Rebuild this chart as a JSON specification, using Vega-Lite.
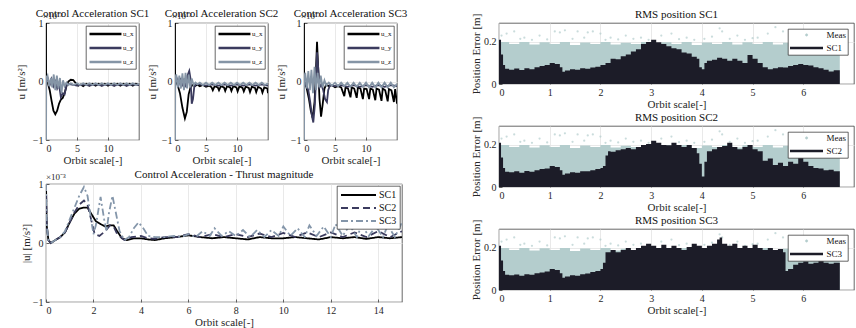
{
"$schema":"https://vega.github.io/schema/vega-lite/v6.json",
"padding":{"left":15,"top":7,"right":0,"bottom":0},
"config":{
 "font":"Liberation Serif",
 "view":{"stroke":"#262626","strokeWidth":0.7},
 "title":{"font":"Liberation Serif","fontSize":11,"fontWeight":"normal","color":"#111111","offset":3},
 "style":{"group-title":{"font":"Liberation Serif","fontSize":11,"fontWeight":"normal","fill":"#111111"}},
 "axis":{"labelFont":"Liberation Serif","titleFont":"Liberation Serif","labelFontSize":10,"titleFontSize":11,"titleFontWeight":"normal","labelColor":"#262626","titleColor":"#262626","ticks":true,"tickSize":-3,"tickColor":"#262626","tickWidth":0.7,"domain":false,"grid":true,"gridColor":"#e3e3e3","gridWidth":0.8,"labelPadding":6,"titlePadding":1},
 "legend":{"labelFont":"Liberation Serif","fillColor":"white","strokeColor":"#262626","strokeWidth":0.7,"cornerRadius":0,"title":null,"labelColor":"#111111"}
},
"datasets":{
 "ctrl":[
  {"sc":"SC1","c":"u_x","x":0,"y":1},{"sc":"SC1","c":"u_x","x":0.02,"y":0},{"sc":"SC1","c":"u_x","x":0.3,"y":-0.03},{"sc":"SC1","c":"u_x","x":0.6,"y":-0.15},{"sc":"SC1","c":"u_x","x":0.9,"y":-0.33},{"sc":"SC1","c":"u_x","x":1.2,"y":-0.5},{"sc":"SC1","c":"u_x","x":1.5,"y":-0.56},{"sc":"SC1","c":"u_x","x":1.8,"y":-0.5},{"sc":"SC1","c":"u_x","x":2.1,"y":-0.38},{"sc":"SC1","c":"u_x","x":2.4,"y":-0.31},{"sc":"SC1","c":"u_x","x":2.7,"y":-0.28},{"sc":"SC1","c":"u_x","x":3.0,"y":-0.2},{"sc":"SC1","c":"u_x","x":3.3,"y":-0.08},{"sc":"SC1","c":"u_x","x":3.6,"y":0.0},{"sc":"SC1","c":"u_x","x":4.0,"y":0.03},{"sc":"SC1","c":"u_x","x":4.4,"y":0.025},{"sc":"SC1","c":"u_x","x":4.8,"y":-0.03},{"sc":"SC1","c":"u_x","x":5.2,"y":-0.07},{"sc":"SC1","c":"u_x","x":5.6,"y":-0.05},{"sc":"SC1","c":"u_x","x":6.0,"y":-0.08},{"sc":"SC1","c":"u_x","x":6.5,"y":-0.04},{"sc":"SC1","c":"u_x","x":7.0,"y":-0.07},{"sc":"SC1","c":"u_x","x":7.5,"y":-0.04},{"sc":"SC1","c":"u_x","x":8.0,"y":-0.07},{"sc":"SC1","c":"u_x","x":8.5,"y":-0.04},{"sc":"SC1","c":"u_x","x":9.0,"y":-0.07},{"sc":"SC1","c":"u_x","x":9.5,"y":-0.04},{"sc":"SC1","c":"u_x","x":10,"y":-0.07},{"sc":"SC1","c":"u_x","x":10.5,"y":-0.04},{"sc":"SC1","c":"u_x","x":11,"y":-0.07},{"sc":"SC1","c":"u_x","x":11.5,"y":-0.04},{"sc":"SC1","c":"u_x","x":12,"y":-0.07},{"sc":"SC1","c":"u_x","x":12.5,"y":-0.04},{"sc":"SC1","c":"u_x","x":13,"y":-0.07},{"sc":"SC1","c":"u_x","x":13.5,"y":-0.04},{"sc":"SC1","c":"u_x","x":14,"y":-0.07},{"sc":"SC1","c":"u_x","x":14.5,"y":-0.04},{"sc":"SC1","c":"u_x","x":15,"y":-0.06},
  {"sc":"SC1","c":"u_y","x":0,"y":0},{"sc":"SC1","c":"u_y","x":0.3,"y":0.05},{"sc":"SC1","c":"u_y","x":0.6,"y":-0.06},{"sc":"SC1","c":"u_y","x":0.9,"y":0.04},{"sc":"SC1","c":"u_y","x":1.2,"y":-0.08},{"sc":"SC1","c":"u_y","x":1.5,"y":0.0},{"sc":"SC1","c":"u_y","x":1.8,"y":-0.12},{"sc":"SC1","c":"u_y","x":2.1,"y":-0.05},{"sc":"SC1","c":"u_y","x":2.4,"y":-0.27},{"sc":"SC1","c":"u_y","x":2.7,"y":-0.2},{"sc":"SC1","c":"u_y","x":3.0,"y":-0.22},{"sc":"SC1","c":"u_y","x":3.3,"y":-0.06},{"sc":"SC1","c":"u_y","x":3.6,"y":-0.04},{"sc":"SC1","c":"u_y","x":4,"y":-0.05},{"sc":"SC1","c":"u_y","x":5,"y":-0.07},{"sc":"SC1","c":"u_y","x":6,"y":-0.05},{"sc":"SC1","c":"u_y","x":7,"y":-0.07},{"sc":"SC1","c":"u_y","x":8,"y":-0.05},{"sc":"SC1","c":"u_y","x":9,"y":-0.07},{"sc":"SC1","c":"u_y","x":10,"y":-0.05},{"sc":"SC1","c":"u_y","x":11,"y":-0.07},{"sc":"SC1","c":"u_y","x":12,"y":-0.05},{"sc":"SC1","c":"u_y","x":13,"y":-0.07},{"sc":"SC1","c":"u_y","x":14,"y":-0.05},{"sc":"SC1","c":"u_y","x":15,"y":-0.06},
  {"sc":"SC1","c":"u_z","x":0,"y":0.1},{"sc":"SC1","c":"u_z","x":0.01,"y":-1},{"sc":"SC1","c":"u_z","x":0.04,"y":0.05},{"sc":"SC1","c":"u_z","x":0.25,"y":0.1},{"sc":"SC1","c":"u_z","x":0.5,"y":-0.08},{"sc":"SC1","c":"u_z","x":0.8,"y":0.06},{"sc":"SC1","c":"u_z","x":1.0,"y":-0.1},{"sc":"SC1","c":"u_z","x":1.25,"y":0.12},{"sc":"SC1","c":"u_z","x":1.5,"y":-0.15},{"sc":"SC1","c":"u_z","x":1.75,"y":0.1},{"sc":"SC1","c":"u_z","x":2.0,"y":-0.12},{"sc":"SC1","c":"u_z","x":2.25,"y":0.06},{"sc":"SC1","c":"u_z","x":2.5,"y":-0.2},{"sc":"SC1","c":"u_z","x":2.75,"y":0.02},{"sc":"SC1","c":"u_z","x":3.0,"y":-0.08},{"sc":"SC1","c":"u_z","x":3.3,"y":-0.02},{"sc":"SC1","c":"u_z","x":3.6,"y":-0.06},{"sc":"SC1","c":"u_z","x":4,"y":-0.03},{"sc":"SC1","c":"u_z","x":4.5,"y":-0.06},{"sc":"SC1","c":"u_z","x":5,"y":-0.03},{"sc":"SC1","c":"u_z","x":5.5,"y":-0.06},{"sc":"SC1","c":"u_z","x":6,"y":-0.03},{"sc":"SC1","c":"u_z","x":6.5,"y":-0.06},{"sc":"SC1","c":"u_z","x":7,"y":-0.03},{"sc":"SC1","c":"u_z","x":7.5,"y":-0.06},{"sc":"SC1","c":"u_z","x":8,"y":-0.03},{"sc":"SC1","c":"u_z","x":8.5,"y":-0.06},{"sc":"SC1","c":"u_z","x":9,"y":-0.03},{"sc":"SC1","c":"u_z","x":9.5,"y":-0.06},{"sc":"SC1","c":"u_z","x":10,"y":-0.03},{"sc":"SC1","c":"u_z","x":10.5,"y":-0.06},{"sc":"SC1","c":"u_z","x":11,"y":-0.03},{"sc":"SC1","c":"u_z","x":11.5,"y":-0.06},{"sc":"SC1","c":"u_z","x":12,"y":-0.03},{"sc":"SC1","c":"u_z","x":12.5,"y":-0.06},{"sc":"SC1","c":"u_z","x":13,"y":-0.03},{"sc":"SC1","c":"u_z","x":13.5,"y":-0.06},{"sc":"SC1","c":"u_z","x":14,"y":-0.03},{"sc":"SC1","c":"u_z","x":14.5,"y":-0.06},{"sc":"SC1","c":"u_z","x":15,"y":-0.04},
  {"sc":"SC2","c":"u_x","x":0,"y":1},{"sc":"SC2","c":"u_x","x":0.02,"y":0},{"sc":"SC2","c":"u_x","x":0.4,"y":-0.05},{"sc":"SC2","c":"u_x","x":0.8,"y":-0.2},{"sc":"SC2","c":"u_x","x":1.2,"y":-0.45},{"sc":"SC2","c":"u_x","x":1.6,"y":-0.63},{"sc":"SC2","c":"u_x","x":1.9,"y":-0.52},{"sc":"SC2","c":"u_x","x":2.2,"y":-0.22},{"sc":"SC2","c":"u_x","x":2.5,"y":-0.1},{"sc":"SC2","c":"u_x","x":2.8,"y":-0.06},{"sc":"SC2","c":"u_x","x":3.2,"y":-0.08},{"sc":"SC2","c":"u_x","x":3.6,"y":-0.05},{"sc":"SC2","c":"u_x","x":4,"y":-0.08},{"sc":"SC2","c":"u_x","x":4.5,"y":-0.06},{"sc":"SC2","c":"u_x","x":5,"y":-0.09},{"sc":"SC2","c":"u_x","x":5.5,"y":-0.07},{"sc":"SC2","c":"u_x","x":5.9,"y":-0.1},{"sc":"SC2","c":"u_x","x":6.1,"y":-0.15},{"sc":"SC2","c":"u_x","x":6.4,"y":-0.08},{"sc":"SC2","c":"u_x","x":6.9,"y":-0.1},{"sc":"SC2","c":"u_x","x":7.1,"y":-0.15},{"sc":"SC2","c":"u_x","x":7.4,"y":-0.08},{"sc":"SC2","c":"u_x","x":7.9,"y":-0.1},{"sc":"SC2","c":"u_x","x":8.1,"y":-0.16},{"sc":"SC2","c":"u_x","x":8.4,"y":-0.08},{"sc":"SC2","c":"u_x","x":8.9,"y":-0.1},{"sc":"SC2","c":"u_x","x":9.1,"y":-0.16},{"sc":"SC2","c":"u_x","x":9.4,"y":-0.08},{"sc":"SC2","c":"u_x","x":9.9,"y":-0.1},{"sc":"SC2","c":"u_x","x":10.1,"y":-0.17},{"sc":"SC2","c":"u_x","x":10.4,"y":-0.08},{"sc":"SC2","c":"u_x","x":10.9,"y":-0.11},{"sc":"SC2","c":"u_x","x":11.1,"y":-0.17},{"sc":"SC2","c":"u_x","x":11.4,"y":-0.09},{"sc":"SC2","c":"u_x","x":11.9,"y":-0.11},{"sc":"SC2","c":"u_x","x":12.1,"y":-0.18},{"sc":"SC2","c":"u_x","x":12.4,"y":-0.09},{"sc":"SC2","c":"u_x","x":12.9,"y":-0.11},{"sc":"SC2","c":"u_x","x":13.1,"y":-0.18},{"sc":"SC2","c":"u_x","x":13.4,"y":-0.09},{"sc":"SC2","c":"u_x","x":13.9,"y":-0.12},{"sc":"SC2","c":"u_x","x":14.1,"y":-0.19},{"sc":"SC2","c":"u_x","x":14.4,"y":-0.1},{"sc":"SC2","c":"u_x","x":14.9,"y":-0.12},{"sc":"SC2","c":"u_x","x":15,"y":-0.2},
  {"sc":"SC2","c":"u_y","x":0,"y":0},{"sc":"SC2","c":"u_y","x":0.3,"y":0.05},{"sc":"SC2","c":"u_y","x":0.6,"y":-0.05},{"sc":"SC2","c":"u_y","x":0.9,"y":0.06},{"sc":"SC2","c":"u_y","x":1.2,"y":-0.08},{"sc":"SC2","c":"u_y","x":1.5,"y":0.05},{"sc":"SC2","c":"u_y","x":1.8,"y":-0.1},{"sc":"SC2","c":"u_y","x":2.0,"y":0.1},{"sc":"SC2","c":"u_y","x":2.3,"y":0.18},{"sc":"SC2","c":"u_y","x":2.5,"y":0.05},{"sc":"SC2","c":"u_y","x":2.7,"y":-0.38},{"sc":"SC2","c":"u_y","x":2.9,"y":-0.3},{"sc":"SC2","c":"u_y","x":3.1,"y":-0.1},{"sc":"SC2","c":"u_y","x":3.4,"y":-0.04},{"sc":"SC2","c":"u_y","x":4,"y":-0.05},{"sc":"SC2","c":"u_y","x":5,"y":-0.07},{"sc":"SC2","c":"u_y","x":6,"y":-0.05},{"sc":"SC2","c":"u_y","x":7,"y":-0.07},{"sc":"SC2","c":"u_y","x":8,"y":-0.05},{"sc":"SC2","c":"u_y","x":9,"y":-0.07},{"sc":"SC2","c":"u_y","x":10,"y":-0.05},{"sc":"SC2","c":"u_y","x":11,"y":-0.07},{"sc":"SC2","c":"u_y","x":12,"y":-0.05},{"sc":"SC2","c":"u_y","x":13,"y":-0.07},{"sc":"SC2","c":"u_y","x":14,"y":-0.05},{"sc":"SC2","c":"u_y","x":15,"y":-0.07},
  {"sc":"SC2","c":"u_z","x":0,"y":0.1},{"sc":"SC2","c":"u_z","x":0.01,"y":-1},{"sc":"SC2","c":"u_z","x":0.04,"y":0.05},{"sc":"SC2","c":"u_z","x":0.2,"y":0.12},{"sc":"SC2","c":"u_z","x":0.45,"y":-0.1},{"sc":"SC2","c":"u_z","x":0.7,"y":0.1},{"sc":"SC2","c":"u_z","x":0.95,"y":-0.12},{"sc":"SC2","c":"u_z","x":1.2,"y":0.14},{"sc":"SC2","c":"u_z","x":1.45,"y":-0.15},{"sc":"SC2","c":"u_z","x":1.7,"y":0.15},{"sc":"SC2","c":"u_z","x":1.95,"y":-0.12},{"sc":"SC2","c":"u_z","x":2.2,"y":0.12},{"sc":"SC2","c":"u_z","x":2.45,"y":-0.1},{"sc":"SC2","c":"u_z","x":2.7,"y":0.05},{"sc":"SC2","c":"u_z","x":3.0,"y":-0.06},{"sc":"SC2","c":"u_z","x":3.3,"y":-0.02},{"sc":"SC2","c":"u_z","x":3.6,"y":-0.05},{"sc":"SC2","c":"u_z","x":4,"y":-0.02},{"sc":"SC2","c":"u_z","x":4.5,"y":-0.06},{"sc":"SC2","c":"u_z","x":5,"y":-0.02},{"sc":"SC2","c":"u_z","x":5.5,"y":-0.06},{"sc":"SC2","c":"u_z","x":6,"y":-0.02},{"sc":"SC2","c":"u_z","x":6.5,"y":-0.06},{"sc":"SC2","c":"u_z","x":7,"y":-0.02},{"sc":"SC2","c":"u_z","x":7.5,"y":-0.06},{"sc":"SC2","c":"u_z","x":8,"y":-0.02},{"sc":"SC2","c":"u_z","x":8.5,"y":-0.06},{"sc":"SC2","c":"u_z","x":9,"y":-0.02},{"sc":"SC2","c":"u_z","x":9.5,"y":-0.06},{"sc":"SC2","c":"u_z","x":10,"y":-0.02},{"sc":"SC2","c":"u_z","x":10.5,"y":-0.06},{"sc":"SC2","c":"u_z","x":11,"y":-0.02},{"sc":"SC2","c":"u_z","x":11.5,"y":-0.06},{"sc":"SC2","c":"u_z","x":12,"y":-0.02},{"sc":"SC2","c":"u_z","x":12.5,"y":-0.06},{"sc":"SC2","c":"u_z","x":13,"y":-0.02},{"sc":"SC2","c":"u_z","x":13.5,"y":-0.06},{"sc":"SC2","c":"u_z","x":14,"y":-0.02},{"sc":"SC2","c":"u_z","x":14.5,"y":-0.06},{"sc":"SC2","c":"u_z","x":15,"y":-0.03},
  {"sc":"SC3","c":"u_x","x":0,"y":1},{"sc":"SC3","c":"u_x","x":0.02,"y":0},{"sc":"SC3","c":"u_x","x":0.4,"y":-0.1},{"sc":"SC3","c":"u_x","x":0.8,"y":-0.3},{"sc":"SC3","c":"u_x","x":1.1,"y":-0.5},{"sc":"SC3","c":"u_x","x":1.4,"y":-0.62},{"sc":"SC3","c":"u_x","x":1.7,"y":-0.35},{"sc":"SC3","c":"u_x","x":1.9,"y":0.1},{"sc":"SC3","c":"u_x","x":2.1,"y":0.68},{"sc":"SC3","c":"u_x","x":2.3,"y":0.2},{"sc":"SC3","c":"u_x","x":2.5,"y":-0.3},{"sc":"SC3","c":"u_x","x":2.75,"y":-0.6},{"sc":"SC3","c":"u_x","x":3.0,"y":-0.4},{"sc":"SC3","c":"u_x","x":3.3,"y":-0.12},{"sc":"SC3","c":"u_x","x":3.6,"y":-0.05},{"sc":"SC3","c":"u_x","x":4,"y":-0.08},{"sc":"SC3","c":"u_x","x":4.5,"y":-0.06},{"sc":"SC3","c":"u_x","x":5,"y":-0.1},{"sc":"SC3","c":"u_x","x":5.5,"y":-0.08},{"sc":"SC3","c":"u_x","x":6,"y":-0.1},{"sc":"SC3","c":"u_x","x":6.5,"y":-0.25},{"sc":"SC3","c":"u_x","x":6.7,"y":-0.1},{"sc":"SC3","c":"u_x","x":7.1,"y":-0.12},{"sc":"SC3","c":"u_x","x":7.5,"y":-0.27},{"sc":"SC3","c":"u_x","x":7.7,"y":-0.1},{"sc":"SC3","c":"u_x","x":8.1,"y":-0.12},{"sc":"SC3","c":"u_x","x":8.5,"y":-0.28},{"sc":"SC3","c":"u_x","x":8.7,"y":-0.1},{"sc":"SC3","c":"u_x","x":9.1,"y":-0.12},{"sc":"SC3","c":"u_x","x":9.5,"y":-0.3},{"sc":"SC3","c":"u_x","x":9.7,"y":-0.12},{"sc":"SC3","c":"u_x","x":10.1,"y":-0.13},{"sc":"SC3","c":"u_x","x":10.5,"y":-0.3},{"sc":"SC3","c":"u_x","x":10.7,"y":-0.12},{"sc":"SC3","c":"u_x","x":11.1,"y":-0.14},{"sc":"SC3","c":"u_x","x":11.5,"y":-0.32},{"sc":"SC3","c":"u_x","x":11.7,"y":-0.12},{"sc":"SC3","c":"u_x","x":12.1,"y":-0.14},{"sc":"SC3","c":"u_x","x":12.5,"y":-0.33},{"sc":"SC3","c":"u_x","x":12.7,"y":-0.12},{"sc":"SC3","c":"u_x","x":13.1,"y":-0.15},{"sc":"SC3","c":"u_x","x":13.5,"y":-0.34},{"sc":"SC3","c":"u_x","x":13.7,"y":-0.13},{"sc":"SC3","c":"u_x","x":14.1,"y":-0.15},{"sc":"SC3","c":"u_x","x":14.5,"y":-0.35},{"sc":"SC3","c":"u_x","x":14.7,"y":-0.13},{"sc":"SC3","c":"u_x","x":15,"y":-0.38},
  {"sc":"SC3","c":"u_y","x":0,"y":0},{"sc":"SC3","c":"u_y","x":0.3,"y":-0.05},{"sc":"SC3","c":"u_y","x":0.7,"y":-0.15},{"sc":"SC3","c":"u_y","x":1.0,"y":-0.35},{"sc":"SC3","c":"u_y","x":1.3,"y":-0.6},{"sc":"SC3","c":"u_y","x":1.5,"y":-0.7},{"sc":"SC3","c":"u_y","x":1.75,"y":-0.4},{"sc":"SC3","c":"u_y","x":1.95,"y":0.1},{"sc":"SC3","c":"u_y","x":2.1,"y":0.5},{"sc":"SC3","c":"u_y","x":2.25,"y":0.3},{"sc":"SC3","c":"u_y","x":2.5,"y":-0.1},{"sc":"SC3","c":"u_y","x":2.8,"y":-0.05},{"sc":"SC3","c":"u_y","x":3.1,"y":-0.15},{"sc":"SC3","c":"u_y","x":3.4,"y":-0.3},{"sc":"SC3","c":"u_y","x":3.7,"y":-0.35},{"sc":"SC3","c":"u_y","x":3.9,"y":-0.15},{"sc":"SC3","c":"u_y","x":4.2,"y":-0.06},{"sc":"SC3","c":"u_y","x":5,"y":-0.08},{"sc":"SC3","c":"u_y","x":6,"y":-0.06},{"sc":"SC3","c":"u_y","x":7,"y":-0.09},{"sc":"SC3","c":"u_y","x":8,"y":-0.06},{"sc":"SC3","c":"u_y","x":9,"y":-0.09},{"sc":"SC3","c":"u_y","x":10,"y":-0.06},{"sc":"SC3","c":"u_y","x":11,"y":-0.09},{"sc":"SC3","c":"u_y","x":12,"y":-0.06},{"sc":"SC3","c":"u_y","x":13,"y":-0.09},{"sc":"SC3","c":"u_y","x":14,"y":-0.06},{"sc":"SC3","c":"u_y","x":15,"y":-0.08},
  {"sc":"SC3","c":"u_z","x":0,"y":0.1},{"sc":"SC3","c":"u_z","x":0.01,"y":-1},{"sc":"SC3","c":"u_z","x":0.04,"y":0.05},{"sc":"SC3","c":"u_z","x":0.2,"y":0.15},{"sc":"SC3","c":"u_z","x":0.45,"y":-0.12},{"sc":"SC3","c":"u_z","x":0.7,"y":0.18},{"sc":"SC3","c":"u_z","x":0.95,"y":-0.15},{"sc":"SC3","c":"u_z","x":1.2,"y":0.2},{"sc":"SC3","c":"u_z","x":1.45,"y":-0.2},{"sc":"SC3","c":"u_z","x":1.7,"y":0.25},{"sc":"SC3","c":"u_z","x":1.95,"y":-0.15},{"sc":"SC3","c":"u_z","x":2.2,"y":0.15},{"sc":"SC3","c":"u_z","x":2.45,"y":-0.1},{"sc":"SC3","c":"u_z","x":2.7,"y":0.1},{"sc":"SC3","c":"u_z","x":3.0,"y":-0.1},{"sc":"SC3","c":"u_z","x":3.3,"y":0.02},{"sc":"SC3","c":"u_z","x":3.6,"y":-0.07},{"sc":"SC3","c":"u_z","x":4,"y":-0.02},{"sc":"SC3","c":"u_z","x":4.5,"y":-0.07},{"sc":"SC3","c":"u_z","x":5,"y":-0.02},{"sc":"SC3","c":"u_z","x":5.5,"y":-0.08},{"sc":"SC3","c":"u_z","x":6,"y":-0.02},{"sc":"SC3","c":"u_z","x":6.5,"y":-0.08},{"sc":"SC3","c":"u_z","x":7,"y":-0.02},{"sc":"SC3","c":"u_z","x":7.5,"y":-0.09},{"sc":"SC3","c":"u_z","x":8,"y":-0.02},{"sc":"SC3","c":"u_z","x":8.5,"y":-0.09},{"sc":"SC3","c":"u_z","x":9,"y":-0.02},{"sc":"SC3","c":"u_z","x":9.5,"y":-0.09},{"sc":"SC3","c":"u_z","x":10,"y":-0.02},{"sc":"SC3","c":"u_z","x":10.5,"y":-0.1},{"sc":"SC3","c":"u_z","x":11,"y":-0.02},{"sc":"SC3","c":"u_z","x":11.5,"y":-0.1},{"sc":"SC3","c":"u_z","x":12,"y":-0.02},{"sc":"SC3","c":"u_z","x":12.5,"y":-0.1},{"sc":"SC3","c":"u_z","x":13,"y":-0.02},{"sc":"SC3","c":"u_z","x":13.5,"y":-0.1},{"sc":"SC3","c":"u_z","x":14,"y":-0.02},{"sc":"SC3","c":"u_z","x":14.5,"y":-0.1},{"sc":"SC3","c":"u_z","x":15,"y":-0.04}
 ],
 "mag":[
  {"s":"SC1","x":0,"y":1},{"s":"SC1","x":0.03,"y":0.3},{"s":"SC1","x":0.1,"y":0.05},{"s":"SC1","x":0.2,"y":0.0},{"s":"SC1","x":0.4,"y":0.05},{"s":"SC1","x":0.6,"y":0.1},{"s":"SC1","x":0.8,"y":0.18},{"s":"SC1","x":1.0,"y":0.35},{"s":"SC1","x":1.2,"y":0.5},{"s":"SC1","x":1.4,"y":0.58},{"s":"SC1","x":1.6,"y":0.6},{"s":"SC1","x":1.75,"y":0.6},{"s":"SC1","x":1.9,"y":0.5},{"s":"SC1","x":2.1,"y":0.37},{"s":"SC1","x":2.3,"y":0.32},{"s":"SC1","x":2.5,"y":0.28},{"s":"SC1","x":2.7,"y":0.3},{"s":"SC1","x":2.85,"y":0.3},{"s":"SC1","x":3.0,"y":0.2},{"s":"SC1","x":3.2,"y":0.08},{"s":"SC1","x":3.4,"y":0.05},{"s":"SC1","x":3.7,"y":0.08},{"s":"SC1","x":4,"y":0.08},{"s":"SC1","x":4.3,"y":0.06},{"s":"SC1","x":4.6,"y":0.05},{"s":"SC1","x":5,"y":0.08},{"s":"SC1","x":5.5,"y":0.1},{"s":"SC1","x":6,"y":0.13},{"s":"SC1","x":6.5,"y":0.1},{"s":"SC1","x":7,"y":0.08},{"s":"SC1","x":7.5,"y":0.1},{"s":"SC1","x":8,"y":0.08},{"s":"SC1","x":8.5,"y":0.06},{"s":"SC1","x":9,"y":0.1},{"s":"SC1","x":9.5,"y":0.08},{"s":"SC1","x":10,"y":0.08},{"s":"SC1","x":10.5,"y":0.1},{"s":"SC1","x":11,"y":0.08},{"s":"SC1","x":11.5,"y":0.06},{"s":"SC1","x":12,"y":0.1},{"s":"SC1","x":12.5,"y":0.08},{"s":"SC1","x":13,"y":0.1},{"s":"SC1","x":13.5,"y":0.07},{"s":"SC1","x":14,"y":0.1},{"s":"SC1","x":14.5,"y":0.08},{"s":"SC1","x":15,"y":0.1},
  {"s":"SC2","x":0,"y":1},{"s":"SC2","x":0.03,"y":0.3},{"s":"SC2","x":0.1,"y":0.05},{"s":"SC2","x":0.2,"y":0.0},{"s":"SC2","x":0.4,"y":0.05},{"s":"SC2","x":0.6,"y":0.1},{"s":"SC2","x":0.8,"y":0.18},{"s":"SC2","x":1.0,"y":0.35},{"s":"SC2","x":1.2,"y":0.52},{"s":"SC2","x":1.4,"y":0.65},{"s":"SC2","x":1.6,"y":0.72},{"s":"SC2","x":1.75,"y":0.65},{"s":"SC2","x":1.9,"y":0.4},{"s":"SC2","x":2.05,"y":0.15},{"s":"SC2","x":2.25,"y":0.12},{"s":"SC2","x":2.5,"y":0.2},{"s":"SC2","x":2.7,"y":0.3},{"s":"SC2","x":2.85,"y":0.28},{"s":"SC2","x":3.0,"y":0.15},{"s":"SC2","x":3.3,"y":0.05},{"s":"SC2","x":3.6,"y":0.1},{"s":"SC2","x":4,"y":0.12},{"s":"SC2","x":4.3,"y":0.08},{"s":"SC2","x":4.6,"y":0.07},{"s":"SC2","x":5,"y":0.1},{"s":"SC2","x":5.5,"y":0.1},{"s":"SC2","x":6,"y":0.15},{"s":"SC2","x":6.5,"y":0.1},{"s":"SC2","x":7,"y":0.15},{"s":"SC2","x":7.5,"y":0.1},{"s":"SC2","x":8,"y":0.15},{"s":"SC2","x":8.5,"y":0.1},{"s":"SC2","x":9,"y":0.16},{"s":"SC2","x":9.5,"y":0.1},{"s":"SC2","x":10,"y":0.17},{"s":"SC2","x":10.5,"y":0.1},{"s":"SC2","x":11,"y":0.18},{"s":"SC2","x":11.5,"y":0.1},{"s":"SC2","x":12,"y":0.18},{"s":"SC2","x":12.5,"y":0.1},{"s":"SC2","x":13,"y":0.18},{"s":"SC2","x":13.5,"y":0.1},{"s":"SC2","x":14,"y":0.2},{"s":"SC2","x":14.5,"y":0.1},{"s":"SC2","x":15,"y":0.2},
  {"s":"SC3","x":0,"y":1},{"s":"SC3","x":0.03,"y":0.3},{"s":"SC3","x":0.1,"y":0.05},{"s":"SC3","x":0.2,"y":0.0},{"s":"SC3","x":0.4,"y":0.05},{"s":"SC3","x":0.6,"y":0.1},{"s":"SC3","x":0.8,"y":0.2},{"s":"SC3","x":1.0,"y":0.4},{"s":"SC3","x":1.2,"y":0.6},{"s":"SC3","x":1.4,"y":0.8},{"s":"SC3","x":1.6,"y":0.95},{"s":"SC3","x":1.75,"y":0.8},{"s":"SC3","x":1.9,"y":0.4},{"s":"SC3","x":2.0,"y":0.15},{"s":"SC3","x":2.1,"y":0.3},{"s":"SC3","x":2.3,"y":0.78},{"s":"SC3","x":2.45,"y":0.4},{"s":"SC3","x":2.55,"y":0.2},{"s":"SC3","x":2.65,"y":0.5},{"s":"SC3","x":2.8,"y":0.8},{"s":"SC3","x":2.95,"y":0.5},{"s":"SC3","x":3.1,"y":0.2},{"s":"SC3","x":3.3,"y":0.05},{"s":"SC3","x":3.5,"y":0.1},{"s":"SC3","x":3.7,"y":0.25},{"s":"SC3","x":3.9,"y":0.35},{"s":"SC3","x":4.1,"y":0.25},{"s":"SC3","x":4.3,"y":0.12},{"s":"SC3","x":4.6,"y":0.1},{"s":"SC3","x":5,"y":0.1},{"s":"SC3","x":5.4,"y":0.12},{"s":"SC3","x":5.7,"y":0.1},{"s":"SC3","x":6,"y":0.15},{"s":"SC3","x":6.3,"y":0.1},{"s":"SC3","x":6.6,"y":0.2},{"s":"SC3","x":6.9,"y":0.12},{"s":"SC3","x":7.1,"y":0.25},{"s":"SC3","x":7.4,"y":0.12},{"s":"SC3","x":7.7,"y":0.2},{"s":"SC3","x":8,"y":0.12},{"s":"SC3","x":8.3,"y":0.22},{"s":"SC3","x":8.6,"y":0.1},{"s":"SC3","x":8.9,"y":0.22},{"s":"SC3","x":9.2,"y":0.1},{"s":"SC3","x":9.5,"y":0.22},{"s":"SC3","x":9.8,"y":0.12},{"s":"SC3","x":10,"y":0.28},{"s":"SC3","x":10.3,"y":0.12},{"s":"SC3","x":10.6,"y":0.25},{"s":"SC3","x":10.9,"y":0.1},{"s":"SC3","x":11.1,"y":0.3},{"s":"SC3","x":11.4,"y":0.12},{"s":"SC3","x":11.7,"y":0.28},{"s":"SC3","x":12,"y":0.1},{"s":"SC3","x":12.2,"y":0.32},{"s":"SC3","x":12.5,"y":0.12},{"s":"SC3","x":12.8,"y":0.3},{"s":"SC3","x":13.1,"y":0.1},{"s":"SC3","x":13.3,"y":0.3},{"s":"SC3","x":13.6,"y":0.12},{"s":"SC3","x":13.9,"y":0.28},{"s":"SC3","x":14.2,"y":0.1},{"s":"SC3","x":14.4,"y":0.3},{"s":"SC3","x":14.7,"y":0.1},{"s":"SC3","x":15,"y":0.35}
 ],
 "env":[
  {"s":"SC1","x":0,"y":0.21},{"s":"SC1","x":0.04,"y":0.14},{"s":"SC1","x":0.08,"y":0.09},{"s":"SC1","x":0.12,"y":0.072},{"s":"SC1","x":0.2,"y":0.068},{"s":"SC1","x":0.3,"y":0.074},{"s":"SC1","x":0.4,"y":0.066},{"s":"SC1","x":0.5,"y":0.075},{"s":"SC1","x":0.6,"y":0.07},{"s":"SC1","x":0.7,"y":0.08},{"s":"SC1","x":0.8,"y":0.085},{"s":"SC1","x":0.9,"y":0.09},{"s":"SC1","x":1.0,"y":0.1},{"s":"SC1","x":1.1,"y":0.095},{"s":"SC1","x":1.2,"y":0.08},{"s":"SC1","x":1.25,"y":0.058},{"s":"SC1","x":1.3,"y":0.064},{"s":"SC1","x":1.4,"y":0.07},{"s":"SC1","x":1.5,"y":0.068},{"s":"SC1","x":1.6,"y":0.075},{"s":"SC1","x":1.7,"y":0.072},{"s":"SC1","x":1.8,"y":0.078},{"s":"SC1","x":1.9,"y":0.082},{"s":"SC1","x":2.0,"y":0.09},{"s":"SC1","x":2.1,"y":0.1},{"s":"SC1","x":2.2,"y":0.12},{"s":"SC1","x":2.3,"y":0.118},{"s":"SC1","x":2.4,"y":0.132},{"s":"SC1","x":2.5,"y":0.14},{"s":"SC1","x":2.6,"y":0.155},{"s":"SC1","x":2.7,"y":0.165},{"s":"SC1","x":2.8,"y":0.19},{"s":"SC1","x":2.9,"y":0.2},{"s":"SC1","x":3.0,"y":0.21},{"s":"SC1","x":3.1,"y":0.198},{"s":"SC1","x":3.2,"y":0.19},{"s":"SC1","x":3.3,"y":0.18},{"s":"SC1","x":3.4,"y":0.17},{"s":"SC1","x":3.5,"y":0.165},{"s":"SC1","x":3.6,"y":0.15},{"s":"SC1","x":3.7,"y":0.145},{"s":"SC1","x":3.8,"y":0.13},{"s":"SC1","x":3.9,"y":0.12},{"s":"SC1","x":3.95,"y":0.08},{"s":"SC1","x":4.0,"y":0.07},{"s":"SC1","x":4.05,"y":0.1},{"s":"SC1","x":4.1,"y":0.11},{"s":"SC1","x":4.2,"y":0.115},{"s":"SC1","x":4.3,"y":0.125},{"s":"SC1","x":4.4,"y":0.12},{"s":"SC1","x":4.5,"y":0.11},{"s":"SC1","x":4.6,"y":0.12},{"s":"SC1","x":4.7,"y":0.11},{"s":"SC1","x":4.8,"y":0.1},{"s":"SC1","x":4.9,"y":0.138},{"s":"SC1","x":5.0,"y":0.12},{"s":"SC1","x":5.1,"y":0.1},{"s":"SC1","x":5.2,"y":0.08},{"s":"SC1","x":5.3,"y":0.07},{"s":"SC1","x":5.4,"y":0.075},{"s":"SC1","x":5.5,"y":0.08},{"s":"SC1","x":5.6,"y":0.078},{"s":"SC1","x":5.7,"y":0.085},{"s":"SC1","x":5.8,"y":0.09},{"s":"SC1","x":5.9,"y":0.095},{"s":"SC1","x":6.0,"y":0.09},{"s":"SC1","x":6.1,"y":0.088},{"s":"SC1","x":6.2,"y":0.08},{"s":"SC1","x":6.3,"y":0.075},{"s":"SC1","x":6.4,"y":0.068},{"s":"SC1","x":6.5,"y":0.06},{"s":"SC1","x":6.6,"y":0.065},{"s":"SC1","x":6.72,"y":0.075},
  {"s":"SC2","x":0,"y":0.21},{"s":"SC2","x":0.04,"y":0.14},{"s":"SC2","x":0.08,"y":0.09},{"s":"SC2","x":0.12,"y":0.072},{"s":"SC2","x":0.2,"y":0.07},{"s":"SC2","x":0.3,"y":0.075},{"s":"SC2","x":0.4,"y":0.068},{"s":"SC2","x":0.5,"y":0.076},{"s":"SC2","x":0.6,"y":0.072},{"s":"SC2","x":0.7,"y":0.08},{"s":"SC2","x":0.8,"y":0.085},{"s":"SC2","x":0.9,"y":0.088},{"s":"SC2","x":1.0,"y":0.1},{"s":"SC2","x":1.1,"y":0.095},{"s":"SC2","x":1.2,"y":0.08},{"s":"SC2","x":1.25,"y":0.058},{"s":"SC2","x":1.3,"y":0.064},{"s":"SC2","x":1.4,"y":0.07},{"s":"SC2","x":1.5,"y":0.068},{"s":"SC2","x":1.6,"y":0.075},{"s":"SC2","x":1.7,"y":0.075},{"s":"SC2","x":1.8,"y":0.08},{"s":"SC2","x":1.9,"y":0.085},{"s":"SC2","x":2.0,"y":0.09},{"s":"SC2","x":2.05,"y":0.1},{"s":"SC2","x":2.1,"y":0.15},{"s":"SC2","x":2.15,"y":0.17},{"s":"SC2","x":2.2,"y":0.168},{"s":"SC2","x":2.3,"y":0.175},{"s":"SC2","x":2.4,"y":0.18},{"s":"SC2","x":2.5,"y":0.185},{"s":"SC2","x":2.6,"y":0.18},{"s":"SC2","x":2.7,"y":0.19},{"s":"SC2","x":2.8,"y":0.2},{"s":"SC2","x":2.9,"y":0.205},{"s":"SC2","x":3.0,"y":0.22},{"s":"SC2","x":3.1,"y":0.21},{"s":"SC2","x":3.2,"y":0.2},{"s":"SC2","x":3.3,"y":0.198},{"s":"SC2","x":3.4,"y":0.21},{"s":"SC2","x":3.5,"y":0.2},{"s":"SC2","x":3.6,"y":0.19},{"s":"SC2","x":3.7,"y":0.2},{"s":"SC2","x":3.8,"y":0.185},{"s":"SC2","x":3.9,"y":0.16},{"s":"SC2","x":3.95,"y":0.11},{"s":"SC2","x":4.0,"y":0.05},{"s":"SC2","x":4.05,"y":0.12},{"s":"SC2","x":4.1,"y":0.17},{"s":"SC2","x":4.2,"y":0.18},{"s":"SC2","x":4.3,"y":0.19},{"s":"SC2","x":4.4,"y":0.195},{"s":"SC2","x":4.5,"y":0.21},{"s":"SC2","x":4.6,"y":0.19},{"s":"SC2","x":4.7,"y":0.18},{"s":"SC2","x":4.8,"y":0.19},{"s":"SC2","x":4.9,"y":0.2},{"s":"SC2","x":5.0,"y":0.18},{"s":"SC2","x":5.1,"y":0.17},{"s":"SC2","x":5.2,"y":0.125},{"s":"SC2","x":5.3,"y":0.135},{"s":"SC2","x":5.4,"y":0.105},{"s":"SC2","x":5.5,"y":0.115},{"s":"SC2","x":5.6,"y":0.1},{"s":"SC2","x":5.7,"y":0.12},{"s":"SC2","x":5.8,"y":0.11},{"s":"SC2","x":5.9,"y":0.14},{"s":"SC2","x":6.0,"y":0.12},{"s":"SC2","x":6.1,"y":0.1},{"s":"SC2","x":6.2,"y":0.09},{"s":"SC2","x":6.3,"y":0.088},{"s":"SC2","x":6.4,"y":0.08},{"s":"SC2","x":6.5,"y":0.082},{"s":"SC2","x":6.6,"y":0.075},{"s":"SC2","x":6.72,"y":0.08},
  {"s":"SC3","x":0,"y":0.21},{"s":"SC3","x":0.04,"y":0.14},{"s":"SC3","x":0.08,"y":0.09},{"s":"SC3","x":0.12,"y":0.072},{"s":"SC3","x":0.2,"y":0.07},{"s":"SC3","x":0.3,"y":0.074},{"s":"SC3","x":0.4,"y":0.068},{"s":"SC3","x":0.5,"y":0.075},{"s":"SC3","x":0.6,"y":0.072},{"s":"SC3","x":0.7,"y":0.08},{"s":"SC3","x":0.8,"y":0.083},{"s":"SC3","x":0.9,"y":0.088},{"s":"SC3","x":1.0,"y":0.1},{"s":"SC3","x":1.1,"y":0.095},{"s":"SC3","x":1.2,"y":0.08},{"s":"SC3","x":1.25,"y":0.058},{"s":"SC3","x":1.3,"y":0.064},{"s":"SC3","x":1.4,"y":0.07},{"s":"SC3","x":1.5,"y":0.068},{"s":"SC3","x":1.6,"y":0.075},{"s":"SC3","x":1.7,"y":0.078},{"s":"SC3","x":1.8,"y":0.085},{"s":"SC3","x":1.9,"y":0.09},{"s":"SC3","x":2.0,"y":0.1},{"s":"SC3","x":2.05,"y":0.13},{"s":"SC3","x":2.1,"y":0.18},{"s":"SC3","x":2.2,"y":0.19},{"s":"SC3","x":2.3,"y":0.18},{"s":"SC3","x":2.4,"y":0.19},{"s":"SC3","x":2.5,"y":0.2},{"s":"SC3","x":2.6,"y":0.19},{"s":"SC3","x":2.7,"y":0.2},{"s":"SC3","x":2.8,"y":0.21},{"s":"SC3","x":2.9,"y":0.22},{"s":"SC3","x":3.0,"y":0.21},{"s":"SC3","x":3.1,"y":0.2},{"s":"SC3","x":3.2,"y":0.215},{"s":"SC3","x":3.3,"y":0.2},{"s":"SC3","x":3.4,"y":0.21},{"s":"SC3","x":3.5,"y":0.2},{"s":"SC3","x":3.6,"y":0.19},{"s":"SC3","x":3.7,"y":0.205},{"s":"SC3","x":3.8,"y":0.22},{"s":"SC3","x":3.9,"y":0.21},{"s":"SC3","x":4.0,"y":0.2},{"s":"SC3","x":4.1,"y":0.21},{"s":"SC3","x":4.2,"y":0.22},{"s":"SC3","x":4.3,"y":0.24},{"s":"SC3","x":4.35,"y":0.25},{"s":"SC3","x":4.4,"y":0.22},{"s":"SC3","x":4.5,"y":0.21},{"s":"SC3","x":4.6,"y":0.22},{"s":"SC3","x":4.7,"y":0.2},{"s":"SC3","x":4.8,"y":0.21},{"s":"SC3","x":4.9,"y":0.2},{"s":"SC3","x":5.0,"y":0.215},{"s":"SC3","x":5.1,"y":0.2},{"s":"SC3","x":5.2,"y":0.19},{"s":"SC3","x":5.3,"y":0.2},{"s":"SC3","x":5.4,"y":0.19},{"s":"SC3","x":5.5,"y":0.195},{"s":"SC3","x":5.6,"y":0.18},{"s":"SC3","x":5.65,"y":0.09},{"s":"SC3","x":5.7,"y":0.1},{"s":"SC3","x":5.8,"y":0.12},{"s":"SC3","x":5.9,"y":0.13},{"s":"SC3","x":6.0,"y":0.135},{"s":"SC3","x":6.1,"y":0.125},{"s":"SC3","x":6.2,"y":0.13},{"s":"SC3","x":6.3,"y":0.14},{"s":"SC3","x":6.4,"y":0.13},{"s":"SC3","x":6.5,"y":0.125},{"s":"SC3","x":6.6,"y":0.13},{"s":"SC3","x":6.72,"y":0.13}
 ],
 "band":[
  {"s":"Meas","x":0,"y":0.2},{"s":"Meas","x":0.2,"y":0.19},{"s":"Meas","x":0.4,"y":0.2},{"s":"Meas","x":0.6,"y":0.188},{"s":"Meas","x":0.8,"y":0.198},{"s":"Meas","x":1.0,"y":0.19},{"s":"Meas","x":1.2,"y":0.2},{"s":"Meas","x":1.4,"y":0.186},{"s":"Meas","x":1.6,"y":0.197},{"s":"Meas","x":1.8,"y":0.19},{"s":"Meas","x":2.0,"y":0.2},{"s":"Meas","x":2.2,"y":0.188},{"s":"Meas","x":2.4,"y":0.196},{"s":"Meas","x":2.6,"y":0.19},{"s":"Meas","x":2.8,"y":0.2},{"s":"Meas","x":3.0,"y":0.188},{"s":"Meas","x":3.2,"y":0.198},{"s":"Meas","x":3.4,"y":0.19},{"s":"Meas","x":3.6,"y":0.2},{"s":"Meas","x":3.8,"y":0.186},{"s":"Meas","x":4.0,"y":0.197},{"s":"Meas","x":4.2,"y":0.19},{"s":"Meas","x":4.4,"y":0.2},{"s":"Meas","x":4.6,"y":0.188},{"s":"Meas","x":4.8,"y":0.198},{"s":"Meas","x":5.0,"y":0.19},{"s":"Meas","x":5.2,"y":0.2},{"s":"Meas","x":5.4,"y":0.188},{"s":"Meas","x":5.6,"y":0.196},{"s":"Meas","x":5.8,"y":0.19},{"s":"Meas","x":6.0,"y":0.2},{"s":"Meas","x":6.2,"y":0.188},{"s":"Meas","x":6.4,"y":0.196},{"s":"Meas","x":6.6,"y":0.19},{"s":"Meas","x":6.72,"y":0.19}
 ],
 "pts":[
  {"s":"Meas","x":0.05,"y":0.23},{"s":"Meas","x":0.15,"y":0.24},{"s":"Meas","x":0.3,"y":0.25},{"s":"Meas","x":0.42,"y":0.215},{"s":"Meas","x":0.5,"y":0.22},{"s":"Meas","x":0.65,"y":0.21},{"s":"Meas","x":0.8,"y":0.23},{"s":"Meas","x":0.95,"y":0.212},{"s":"Meas","x":1.1,"y":0.25},{"s":"Meas","x":1.2,"y":0.245},{"s":"Meas","x":1.3,"y":0.255},{"s":"Meas","x":1.45,"y":0.215},{"s":"Meas","x":1.55,"y":0.25},{"s":"Meas","x":1.68,"y":0.22},{"s":"Meas","x":1.75,"y":0.245},{"s":"Meas","x":1.85,"y":0.25},{"s":"Meas","x":2.0,"y":0.24},{"s":"Meas","x":2.1,"y":0.21},{"s":"Meas","x":2.2,"y":0.22},{"s":"Meas","x":2.35,"y":0.212},{"s":"Meas","x":2.5,"y":0.23},{"s":"Meas","x":2.65,"y":0.215},{"s":"Meas","x":2.8,"y":0.22},{"s":"Meas","x":2.95,"y":0.21},{"s":"Meas","x":3.2,"y":0.23},{"s":"Meas","x":3.4,"y":0.24},{"s":"Meas","x":3.55,"y":0.213},{"s":"Meas","x":3.7,"y":0.22},{"s":"Meas","x":3.85,"y":0.21},{"s":"Meas","x":4.05,"y":0.215},{"s":"Meas","x":4.2,"y":0.225},{"s":"Meas","x":4.35,"y":0.265},{"s":"Meas","x":4.4,"y":0.25},{"s":"Meas","x":4.55,"y":0.215},{"s":"Meas","x":4.7,"y":0.23},{"s":"Meas","x":4.85,"y":0.21},{"s":"Meas","x":5.0,"y":0.218},{"s":"Meas","x":5.1,"y":0.22},{"s":"Meas","x":5.3,"y":0.24},{"s":"Meas","x":5.45,"y":0.27},{"s":"Meas","x":5.6,"y":0.25},{"s":"Meas","x":5.75,"y":0.212},{"s":"Meas","x":5.9,"y":0.22},{"s":"Meas","x":6.05,"y":0.21},{"s":"Meas","x":6.2,"y":0.215},{"s":"Meas","x":6.35,"y":0.21},{"s":"Meas","x":6.5,"y":0.23},{"s":"Meas","x":6.65,"y":0.212}
 ]
},
"resolve":{"scale":{"color":"independent","strokeDash":"independent"},"legend":{"color":"independent","strokeDash":"independent"}},
"spacing":62,
"hconcat":[
 {"resolve":{"scale":{"color":"independent","strokeDash":"independent"},"legend":{"color":"independent","strokeDash":"independent"}},
  "spacing":2,"align":"none",
  "vconcat":[
  {"resolve":{"scale":{"color":"independent"},"legend":{"color":"independent"}},
   "bounds":"flush","spacing":36,
   "hconcat":[
    {"width":93,"height":117,"title":{"text":"Control Acceleration SC1","dy":10,"font":"Liberation Serif","fontSize":11,"fontWeight":"normal"},
     "layer":[
      {"data":{"name":"ctrl"},"transform":[{"filter":"datum.sc==='SC1'"}],"mark":{"type":"line","strokeWidth":1.8,"clip":true},
       "encoding":{"x":{"field":"x","type":"quantitative","scale":{"domain":[0,15],"nice":false},"axis":{"values":[0,5,10],"title":"Orbit scale[-]"}},
        "y":{"field":"y","type":"quantitative","scale":{"domain":[-1,1],"nice":false},"axis":{"values":[-1,-0.5,0,0.5,1],"format":"~g","title":"u [m/s²]","titlePadding":6}},
        "color":{"field":"c","type":"nominal","scale":{"domain":["u_x","u_y","u_z"],"range":["#000000","#3b3b5e","#8595a6"]},"legend":{"orient":"top-right","offset":3,"symbolType":"M-1,0H6.1","symbolSize":81,"symbolStrokeWidth":2.5,"labelFontSize":7,"padding":2,"rowPadding":3,"labelOffset":23}}}},
      {"data":{"values":[{"t":"×10⁻³"}]},"mark":{"type":"text","align":"left","baseline":"bottom","dx":-3,"dy":-2,"fontSize":9,"font":"Liberation Serif","color":"#262626"},
       "encoding":{"x":{"datum":0,"type":"quantitative"},"y":{"datum":1,"type":"quantitative"},"text":{"field":"t"}}}
     ]},
    {"width":93,"height":117,"title":{"text":"Control Acceleration SC2","dy":10,"font":"Liberation Serif","fontSize":11,"fontWeight":"normal"},
     "layer":[
      {"data":{"name":"ctrl"},"transform":[{"filter":"datum.sc==='SC2'"}],"mark":{"type":"line","strokeWidth":1.8,"clip":true},
       "encoding":{"x":{"field":"x","type":"quantitative","scale":{"domain":[0,15],"nice":false},"axis":{"values":[0,5,10],"title":"Orbit scale[-]"}},
        "y":{"field":"y","type":"quantitative","scale":{"domain":[-1,1],"nice":false},"axis":{"values":[-1,-0.5,0,0.5,1],"format":"~g","title":"u [m/s²]","titlePadding":4}},
        "color":{"field":"c","type":"nominal","scale":{"domain":["u_x","u_y","u_z"],"range":["#000000","#3b3b5e","#8595a6"]},"legend":{"orient":"top-right","offset":3,"symbolType":"M-1,0H6.1","symbolSize":81,"symbolStrokeWidth":2.5,"labelFontSize":7,"padding":2,"rowPadding":3,"labelOffset":23}}}},
      {"data":{"values":[{"t":"×10⁻³"}]},"mark":{"type":"text","align":"left","baseline":"bottom","dx":-3,"dy":-2,"fontSize":9,"font":"Liberation Serif","color":"#262626"},
       "encoding":{"x":{"datum":0,"type":"quantitative"},"y":{"datum":1,"type":"quantitative"},"text":{"field":"t"}}}
     ]},
    {"width":93,"height":117,"title":{"text":"Control Acceleration SC3","dy":10,"font":"Liberation Serif","fontSize":11,"fontWeight":"normal"},
     "layer":[
      {"data":{"name":"ctrl"},"transform":[{"filter":"datum.sc==='SC3'"}],"mark":{"type":"line","strokeWidth":1.8,"clip":true},
       "encoding":{"x":{"field":"x","type":"quantitative","scale":{"domain":[0,15],"nice":false},"axis":{"values":[0,5,10],"title":"Orbit scale[-]"}},
        "y":{"field":"y","type":"quantitative","scale":{"domain":[-1,1],"nice":false},"axis":{"values":[-1,-0.5,0,0.5,1],"format":"~g","title":"u [m/s²]","titlePadding":4}},
        "color":{"field":"c","type":"nominal","scale":{"domain":["u_x","u_y","u_z"],"range":["#000000","#3b3b5e","#8595a6"]},"legend":{"orient":"top-right","offset":3,"symbolType":"M-1,0H6.1","symbolSize":81,"symbolStrokeWidth":2.5,"labelFontSize":7,"padding":2,"rowPadding":3,"labelOffset":23}}}},
      {"data":{"values":[{"t":"×10⁻³"}]},"mark":{"type":"text","align":"left","baseline":"bottom","dx":-3,"dy":-2,"fontSize":9,"font":"Liberation Serif","color":"#262626"},
       "encoding":{"x":{"datum":0,"type":"quantitative"},"y":{"datum":1,"type":"quantitative"},"text":{"field":"t"}}}
     ]}
   ]},
  {"width":356,"height":118,"title":{"text":"Control Acceleration - Thrust magnitude","dy":10,"font":"Liberation Serif","fontSize":11,"fontWeight":"normal"},
   "layer":[
    {"data":{"name":"mag"},"mark":{"type":"line","strokeWidth":1.8,"clip":true},
     "encoding":{"x":{"field":"x","type":"quantitative","scale":{"domain":[0,15],"nice":false},"axis":{"values":[0,2,4,6,8,10,12,14],"title":"Orbit scale[-]"}},
      "y":{"field":"y","type":"quantitative","scale":{"domain":[-1,1],"nice":false},"axis":{"values":[-1,-0.5,0,0.5,1],"format":"~g","title":"|u| [m/s²]","titlePadding":1}},
      "color":{"field":"s","type":"nominal","scale":{"domain":["SC1","SC2","SC3"],"range":["#000000","#3b3b5e","#8496aa"]},"legend":{"orient":"top-right","offset":2,"symbolType":"M-1,0H6","symbolSize":100,"symbolStrokeWidth":2,"labelFontSize":10,"padding":3,"rowPadding":2,"labelOffset":27}},
      "strokeDash":{"field":"s","type":"nominal","scale":{"domain":["SC1","SC2","SC3"],"range":[[1,0],[7,4],[7,3,2,3]]},"legend":{"orient":"top-right","offset":2,"symbolType":"M-1,0H6","symbolSize":100,"symbolStrokeWidth":2,"labelFontSize":10,"padding":3,"rowPadding":2,"labelOffset":27}}}},
    {"data":{"values":[{"t":"×10⁻³"}]},"mark":{"type":"text","align":"left","baseline":"bottom","dx":0,"dy":-2,"fontSize":9,"font":"Liberation Serif","color":"#262626"},
     "encoding":{"x":{"datum":0,"type":"quantitative"},"y":{"datum":1,"type":"quantitative"},"text":{"field":"t"}}}
   ]}
 ]},
 {"resolve":{"scale":{"color":"independent"},"legend":{"color":"independent"}},
  "bounds":"flush","spacing":42,
  "vconcat":[
   {"width":355,"height":61,"title":{"text":"RMS position SC1","dy":10,"font":"Liberation Serif","fontSize":11,"fontWeight":"normal"},
    "layer":[
     {"data":{"name":"band"},"mark":{"type":"area","interpolate":"step-after","clip":true},
      "encoding":{"x":{"field":"x","type":"quantitative","scale":{"domain":[0,7],"nice":false},"axis":{"values":[0,1,2,3,4,5,6],"title":"Orbit scale[-]"}},
       "y":{"field":"y","type":"quantitative","scale":{"domain":[0,0.29],"nice":false},"axis":{"values":[0,0.1,0.2],"format":"~g","title":"Position Error [m]","titlePadding":2}},
       "color":{"field":"s","type":"nominal","scale":{"domain":["Meas","SC1"],"range":["#b4cdcd","#1c1c28"]},"legend":{"orient":"top-right","offset":6,"symbolType":"M-1,0H7.25","symbolSize":64,"symbolStrokeWidth":2.5,"labelFontSize":9,"padding":1.5,"rowPadding":2,"labelOffset":28,
        "encode":{"symbols":{"update":{"shape":{"signal":"datum.value==='Meas'?'M2.85,0A0.3,0.3 0 1,0 3.45,0A0.3,0.3 0 1,0 2.85,0Z':'M-1,0H7.25'"},"fill":{"signal":"datum.value==='Meas'?'#b4cdcd':'transparent'"},"stroke":{"signal":"datum.value==='Meas'?'#b4cdcd':'#1c1c28'"},"strokeWidth":{"signal":"datum.value==='Meas'?0.5:2.5"}}}}}}}},
     {"data":{"name":"pts"},"mark":{"type":"circle","size":5,"clip":true},
      "encoding":{"x":{"field":"x","type":"quantitative"},"y":{"field":"y","type":"quantitative"},"color":{"field":"s","type":"nominal"}}},
     {"data":{"name":"env"},"transform":[{"filter":"datum.s==='SC1'"}],"mark":{"type":"area","interpolate":"step-after","clip":true},
      "encoding":{"x":{"field":"x","type":"quantitative"},"y":{"field":"y","type":"quantitative"},"color":{"field":"s","type":"nominal"}}}
    ]},
   {"width":355,"height":61,"title":{"text":"RMS position SC2","dy":10,"font":"Liberation Serif","fontSize":11,"fontWeight":"normal"},
    "layer":[
     {"data":{"name":"band"},"mark":{"type":"area","interpolate":"step-after","clip":true},
      "encoding":{"x":{"field":"x","type":"quantitative","scale":{"domain":[0,7],"nice":false},"axis":{"values":[0,1,2,3,4,5,6],"title":"Orbit scale[-]"}},
       "y":{"field":"y","type":"quantitative","scale":{"domain":[0,0.29],"nice":false},"axis":{"values":[0,0.1,0.2],"format":"~g","title":"Position Error [m]","titlePadding":2}},
       "color":{"field":"s","type":"nominal","scale":{"domain":["Meas","SC2"],"range":["#b4cdcd","#1c1c28"]},"legend":{"orient":"top-right","offset":6,"symbolType":"M-1,0H7.25","symbolSize":64,"symbolStrokeWidth":2.5,"labelFontSize":9,"padding":1.5,"rowPadding":2,"labelOffset":28,
        "encode":{"symbols":{"update":{"shape":{"signal":"datum.value==='Meas'?'M2.85,0A0.3,0.3 0 1,0 3.45,0A0.3,0.3 0 1,0 2.85,0Z':'M-1,0H7.25'"},"fill":{"signal":"datum.value==='Meas'?'#b4cdcd':'transparent'"},"stroke":{"signal":"datum.value==='Meas'?'#b4cdcd':'#1c1c28'"},"strokeWidth":{"signal":"datum.value==='Meas'?0.5:2.5"}}}}}}}},
     {"data":{"name":"pts"},"mark":{"type":"circle","size":5,"clip":true},
      "encoding":{"x":{"field":"x","type":"quantitative"},"y":{"field":"y","type":"quantitative"},"color":{"field":"s","type":"nominal"}}},
     {"data":{"name":"env"},"transform":[{"filter":"datum.s==='SC2'"}],"mark":{"type":"area","interpolate":"step-after","clip":true},
      "encoding":{"x":{"field":"x","type":"quantitative"},"y":{"field":"y","type":"quantitative"},"color":{"field":"s","type":"nominal"}}}
    ]},
   {"width":355,"height":61,"title":{"text":"RMS position SC3","dy":10,"font":"Liberation Serif","fontSize":11,"fontWeight":"normal"},
    "layer":[
     {"data":{"name":"band"},"mark":{"type":"area","interpolate":"step-after","clip":true},
      "encoding":{"x":{"field":"x","type":"quantitative","scale":{"domain":[0,7],"nice":false},"axis":{"values":[0,1,2,3,4,5,6],"title":"Orbit scale[-]"}},
       "y":{"field":"y","type":"quantitative","scale":{"domain":[0,0.29],"nice":false},"axis":{"values":[0,0.1,0.2],"format":"~g","title":"Position Error [m]","titlePadding":2}},
       "color":{"field":"s","type":"nominal","scale":{"domain":["Meas","SC3"],"range":["#b4cdcd","#1c1c28"]},"legend":{"orient":"top-right","offset":6,"symbolType":"M-1,0H7.25","symbolSize":64,"symbolStrokeWidth":2.5,"labelFontSize":9,"padding":1.5,"rowPadding":2,"labelOffset":28,
        "encode":{"symbols":{"update":{"shape":{"signal":"datum.value==='Meas'?'M2.85,0A0.3,0.3 0 1,0 3.45,0A0.3,0.3 0 1,0 2.85,0Z':'M-1,0H7.25'"},"fill":{"signal":"datum.value==='Meas'?'#b4cdcd':'transparent'"},"stroke":{"signal":"datum.value==='Meas'?'#b4cdcd':'#1c1c28'"},"strokeWidth":{"signal":"datum.value==='Meas'?0.5:2.5"}}}}}}}},
     {"data":{"name":"pts"},"mark":{"type":"circle","size":5,"clip":true},
      "encoding":{"x":{"field":"x","type":"quantitative"},"y":{"field":"y","type":"quantitative"},"color":{"field":"s","type":"nominal"}}},
     {"data":{"name":"env"},"transform":[{"filter":"datum.s==='SC3'"}],"mark":{"type":"area","interpolate":"step-after","clip":true},
      "encoding":{"x":{"field":"x","type":"quantitative"},"y":{"field":"y","type":"quantitative"},"color":{"field":"s","type":"nominal"}}}
    ]}
 ]}
]
}
